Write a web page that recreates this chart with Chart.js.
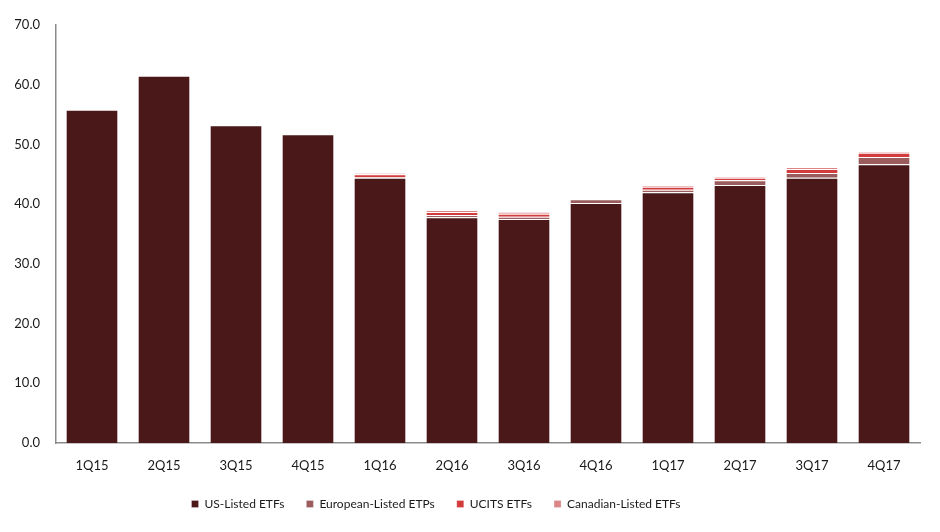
<!DOCTYPE html>
<html>
<head>
<meta charset="utf-8">
<script src="https://cdn.jsdelivr.net/npm/chart.js@4.4.1/dist/chart.umd.min.js"></script>
<style>
  html, body { margin: 0; padding: 0; background: #fff; }
  #wrap { width: 940px; height: 532px; position: relative; }
</style>
</head>
<body>
<div id="wrap"><canvas id="chartEtf"></canvas></div>
<script>
// Trimestres
const quarters = ['1Q15', '2Q15', '3Q15', '4Q15', '1Q16', '2Q16', '3Q16', '4Q16', '1Q17', '2Q17', '3Q17', '4Q17'];

// Valores
const usListed = [55.8, 61.5, 53.2, 51.7, 44.4, 37.8, 37.5, 40.2, 42.0, 43.2, 44.4, 46.7];
const europeanListed = [0, 0, 0, 0, 0.1, 0.4, 0.4, 0.6, 0.4, 0.8, 0.8, 1.2];
const ucits = [0, 0, 0, 0, 0.5, 0.5, 0.5, 0, 0.5, 0.4, 0.7, 0.7];
const canadianListed = [0, 0, 0, 0, 0.2, 0.3, 0.3, 0, 0.3, 0.2, 0.3, 0.2];

const yTicks = [0, 10, 20, 30, 40, 50, 60, 70];

const fontFamily = 'Lato, "Open Sans", sans-serif';
const textColor = '#1a1a1a';

function serie(label, data, color) {
    return {
        label: label,
        data: data,
        backgroundColor: color,
        borderColor: '#ffffff',
        borderWidth: { top: 1, bottom: 0, left: 0, right: 0 },
        borderSkipped: false,
        categoryPercentage: 0.71,
        barPercentage: 1.0
    };
}

// Desloca a legenda para a esquerda (no original ela não fica centralizada no canvas)
const legendShift = {
    id: 'legendShift',
    afterLayout(chart) {
        chart.legend.left -= 28;
        chart.legend.right -= 28;
    }
};

const ctx = document.getElementById('chartEtf').getContext('2d');

new Chart(ctx, {
    type: 'bar',
    data: {
        labels: quarters,
        datasets: [
            serie('US-Listed ETFs', usListed, '#4a1818'),
            serie('European-Listed ETPs', europeanListed, '#9a5c5c'),
            serie('UCITS ETFs', ucits, '#d23c3c'),
            serie('Canadian-Listed ETFs', canadianListed, '#dc8585')
        ]
    },
    options: {
        responsive: true,
        maintainAspectRatio: false,
        animation: false,
        layout: { padding: { left: 8, right: 20, top: 25, bottom: 12 } },
        plugins: {
            legend: {
                position: 'bottom',
                labels: {
                    boxWidth: 7,
                    boxHeight: 7,
                    padding: 22,
                    color: textColor,
                    font: { family: fontFamily, size: 12 }
                }
            },
            tooltip: { enabled: false }
        },
        scales: {
            x: {
                stacked: true,
                afterFit: scale => { scale.height = 33; },
                grid: { display: false },
                border: { display: true, color: '#8c8c8c', width: 1.5 },
                ticks: {
                    color: textColor,
                    padding: 7,
                    font: { family: fontFamily, size: 13 }
                }
            },
            y: {
                stacked: true,
                min: 0,
                max: 70,
                afterFit: scale => { scale.width = 48; },
                afterBuildTicks: scale => { scale.ticks = yTicks.map(v => ({ value: v })); },
                grid: { display: false },
                border: { display: true, color: '#8c8c8c', width: 1.5 },
                ticks: {
                    color: textColor,
                    padding: 8,
                    font: { family: fontFamily, size: 13 },
                    callback: v => v.toFixed(1)
                }
            }
        }
    },
    plugins: [legendShift]
});
</script>
</body>
</html>
